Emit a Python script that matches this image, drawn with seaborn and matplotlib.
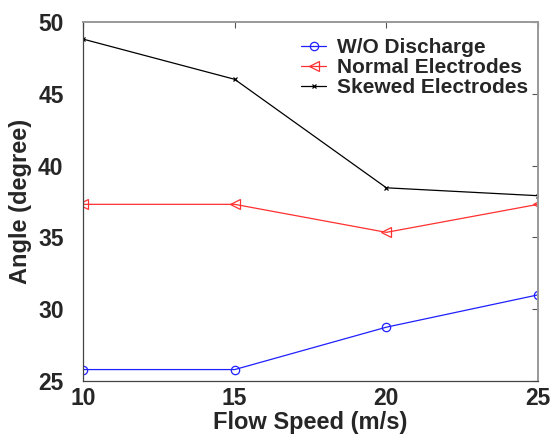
import numpy as np
import matplotlib
matplotlib.use("Agg")
import matplotlib.pyplot as plt
import pandas as pd
import seaborn as sns

# datos
speed = [10, 15, 20, 25]
wo_discharge = [25.8, 25.8, 28.75, 31.0]
normal = [37.3, 37.3, 35.35, 37.3]
skewed = [48.8, 46.0, 38.45, 37.9]

sns.set_style("white")
plt.rcParams['font.family'] = ['Liberation Sans', 'DejaVu Sans']
plt.rcParams['font.weight'] = 'bold'

fig = plt.figure(figsize=(5.59, 4.37), dpi=100)
ax = fig.add_axes([0.1485, 0.128, 0.814, 0.822])

df = pd.DataFrame({'speed': speed, 'wo': wo_discharge, 'normal': normal, 'skewed': skewed})

sns.lineplot(data=df, x='speed', y='wo', ax=ax, color='#2020ff', lw=0.9,
             marker='o', markersize=6, markerfacecolor='none',
             markeredgecolor='#2020ff', markeredgewidth=0.9, label='W/O Discharge')
sns.lineplot(data=df, x='speed', y='normal', ax=ax, color='#ff3030', lw=0.9,
             marker='<', markersize=7, markerfacecolor='none',
             markeredgecolor='#ff3030', markeredgewidth=0.9, label='Normal Electrodes')
sns.lineplot(data=df, x='speed', y='skewed', ax=ax, color='black', lw=0.9,
             marker='x', markersize=3.5, markeredgecolor='black',
             markeredgewidth=0.9, label='Skewed Electrodes')

ax.set_xlim(10, 25)
ax.set_ylim(25, 50)
ax.set_xticks([10, 15, 20, 25])
ax.set_yticks([25, 30, 35, 40, 45, 50])
ax.tick_params(direction='in', length=4, width=0.8, color='#555555',
               labelsize=16.5, top=True, right=True)
ax.tick_params(axis='y', pad=14)
ax.tick_params(axis='x', pad=4)
for lbl in ax.get_xticklabels() + ax.get_yticklabels():
    lbl.set_fontweight('bold')

ax.set_xlabel('Flow Speed (m/s)', fontsize=17, fontweight='bold', labelpad=1)
ax.set_ylabel('Angle (degree)', fontsize=17, fontweight='bold', labelpad=4)

for side in ['left', 'bottom']:
    ax.spines[side].set_color('#444444')
    ax.spines[side].set_linewidth(0.9)
for side in ['top', 'right']:
    ax.spines[side].set_color('#999999')
    ax.spines[side].set_linewidth(1.4)

leg = ax.legend(loc='upper right', bbox_to_anchor=(1.01, 0.995), frameon=False,
                prop={'size': 15, 'weight': 'bold'}, handlelength=1.2,
                handletextpad=0.5, labelspacing=0.05, borderaxespad=0.3)

fig.savefig('out.png', dpi=100)
